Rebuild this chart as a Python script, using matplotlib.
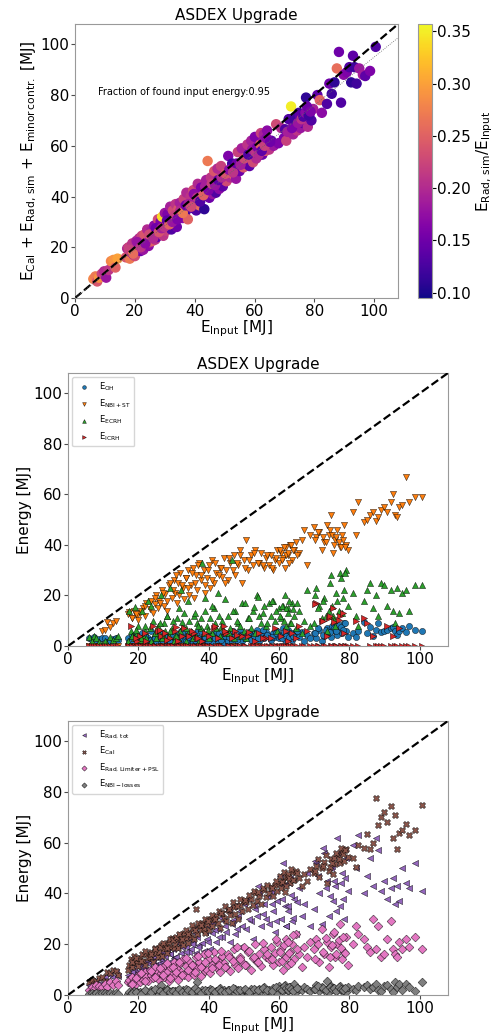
import numpy as np
import matplotlib
matplotlib.use('Agg')
import matplotlib.pyplot as plt

plt.rcParams['mathtext.default'] = 'regular'

# shots: input energy [MJ]
e_input = [6.1, 6.8, 7.4, 8.0, 8.9, 9.7, 10.4, 11.2, 12.0, 12.8, 13.5, 14.2,
           17.0, 17.4, 17.9, 18.3, 18.8, 19.1, 19.6, 20.0, 20.5, 21.0,
           21.4, 21.9, 22.3, 22.8, 23.2, 23.7, 24.1, 24.6, 25.0, 25.5,
           25.9, 26.4, 26.8, 27.3, 27.7, 28.2, 28.6, 29.1, 29.5, 30.0,
           30.4, 30.9, 31.3, 31.8, 32.2, 32.7, 33.1, 33.6, 34.0, 34.5,
           35.0, 35.4, 35.9, 36.3, 36.8, 37.2, 37.7, 38.1, 38.6, 39.0,
           39.5, 40.0, 40.5, 41.0, 41.6, 42.1, 42.7, 43.2, 43.8, 44.3,
           44.9, 45.4, 46.0, 46.5, 47.1, 47.6, 48.2, 48.8, 49.4, 50.0,
           50.6, 51.2, 51.9, 52.5, 53.1, 53.8, 54.4, 55.0, 55.7, 56.3,
           57.0, 57.6, 58.3, 58.9, 59.5, 60.1, 60.6, 61.1, 61.6, 62.1,
           62.6, 63.1, 63.6, 64.2, 64.9, 65.6, 66.4, 67.2, 68.0, 68.9,
           69.8, 70.6, 71.4, 72.2, 72.9, 73.6, 74.2, 74.8, 75.4, 76.0,
           76.6, 77.2, 77.8, 78.4, 79.0, 79.6,
           81.0, 81.8, 82.5, 84.2, 85.0, 85.8, 86.7, 87.5, 88.2, 88.9, 89.8,
           90.8, 91.7, 92.3, 92.9, 93.4, 94.1, 95.0, 96.2, 97.0, 98.6, 100.5,
           18.1, 19.4, 20.8, 22.0, 23.5, 24.8, 26.1, 27.0, 28.0, 28.9,
           29.8, 30.7, 31.5, 32.5, 33.4, 34.2, 35.2, 36.0, 37.0, 37.9,
           38.8, 39.7, 40.8, 41.8, 42.9, 43.5, 44.6, 45.7, 46.8, 47.9,
           49.0, 50.3, 51.5, 52.8, 54.0, 55.3, 56.6, 57.9, 59.2, 60.3,
           60.9, 61.4, 61.9, 62.4, 62.9, 63.4, 64.0, 65.2, 70.2, 71.0,
           72.5, 73.3, 74.5, 75.1, 75.7, 76.3, 77.0, 77.5, 78.1, 78.7]

# E_cal + E_rad,sim + minor contributions
e_found = [7.5, 8.5, 6.5, 8.0, 9.5, 10.5, 8.0, 11.0, 14.5, 15.0, 12.0, 15.5,
           16.0, 19.5, 20.0, 15.5, 18.0, 21.5, 17.0, 16.5, 22.5, 18.5,
           23.5, 18.5, 24.5, 19.0, 25.0, 21.0, 27.0, 20.5, 22.0, 26.5,
           22.5, 28.5, 23.0, 24.0, 31.0, 25.5, 30.0, 32.0, 24.5, 33.5,
           26.5, 33.0, 28.0, 36.0, 27.0, 34.5, 29.5, 37.0, 28.0, 35.0,
           37.5, 33.0, 31.5, 39.0, 33.5, 41.5, 31.0, 36.0, 40.0, 35.5,
           42.5, 37.0, 34.5, 45.0, 36.5, 43.5, 40.0, 35.0, 46.5, 54.0,
           39.5, 47.5, 41.0, 50.0, 41.5, 51.0, 43.0, 52.0, 44.0, 46.5,
           46.0, 56.0, 47.5, 53.0, 48.5, 47.0, 57.5, 50.0, 59.0, 51.5,
           53.0, 60.5, 52.0, 62.0, 53.5, 63.5, 55.0, 57.0, 60.0, 65.0,
           56.5, 64.5, 58.0, 66.0, 58.5, 62.0, 60.0, 68.5, 61.0, 67.0,
           63.0, 62.0, 70.5, 75.5, 64.5, 68.0, 66.0, 73.0, 67.0, 69.0,
           71.5, 79.0, 67.5, 72.5, 70.0, 74.5,
           80.0, 78.0, 73.0, 76.5, 84.5, 80.5, 85.0, 90.5, 97.0, 77.0, 88.0,
           89.0, 91.0, 85.0, 95.5, 91.0, 84.5, 90.5, 88.0, 87.5, 89.5, 99.0,
           19.0, 17.5, 22.0, 20.0, 21.5, 25.0, 23.5, 27.5, 26.0, 27.5,
           28.0, 30.5, 29.0, 30.0, 32.5, 31.0, 34.5, 33.5, 36.5, 37.0,
           36.0, 41.0, 39.5, 38.0, 40.5, 44.0, 42.5, 45.0, 44.5, 46.5,
           47.5, 49.0, 50.5, 49.5, 53.0, 52.5, 55.0, 56.5, 58.5, 57.5,
           59.5, 56.5, 60.5, 58.0, 62.0, 60.0, 63.0, 61.5, 66.5, 65.5,
           67.0, 70.5, 69.0, 72.0, 70.5, 71.5, 73.0, 75.5, 72.0, 73.5]

rad_frac = [0.28, 0.27, 0.24, 0.29, 0.22, 0.20, 0.18, 0.21, 0.28, 0.29, 0.25, 0.30,
            0.24, 0.20, 0.22, 0.27, 0.18, 0.21, 0.16, 0.23, 0.19, 0.25,
            0.20, 0.15, 0.22, 0.18, 0.24, 0.13, 0.20, 0.17, 0.22, 0.19,
            0.25, 0.17, 0.21, 0.14, 0.23, 0.19, 0.16, 0.34, 0.21, 0.18,
            0.22, 0.16, 0.26, 0.19, 0.13, 0.23, 0.18, 0.21, 0.15, 0.24,
            0.19, 0.27, 0.17, 0.22, 0.12, 0.20, 0.25, 0.16, 0.21, 0.14,
            0.23, 0.18, 0.13, 0.20, 0.26, 0.16, 0.21, 0.11, 0.19, 0.27,
            0.15, 0.21, 0.18, 0.24, 0.13, 0.20, 0.17, 0.22, 0.14, 0.19,
            0.23, 0.16, 0.20, 0.12, 0.25, 0.18, 0.22, 0.15, 0.19, 0.24,
            0.17, 0.21, 0.14, 0.19, 0.23, 0.16, 0.20, 0.13, 0.18, 0.22,
            0.15, 0.19, 0.24, 0.17, 0.21, 0.14, 0.18, 0.23, 0.16, 0.20,
            0.16, 0.22, 0.13, 0.35, 0.19, 0.15, 0.21, 0.12, 0.18, 0.14,
            0.17, 0.11, 0.20, 0.15, 0.13, 0.19,
            0.14, 0.25, 0.17, 0.13, 0.15, 0.12, 0.11, 0.26, 0.15, 0.13, 0.17,
            0.16, 0.13, 0.11, 0.14, 0.12, 0.12, 0.18, 0.19, 0.14, 0.16, 0.13,
            0.22, 0.26, 0.18, 0.21, 0.17, 0.23, 0.20, 0.15, 0.24, 0.19,
            0.21, 0.14, 0.25, 0.18, 0.22, 0.16, 0.20, 0.27, 0.15, 0.19,
            0.23, 0.17, 0.21, 0.13, 0.25, 0.19, 0.16, 0.22, 0.18, 0.14,
            0.20, 0.24, 0.17, 0.21, 0.15, 0.19, 0.23, 0.13, 0.18, 0.21,
            0.16, 0.20, 0.25, 0.14, 0.18, 0.22, 0.17, 0.15, 0.13, 0.19,
            0.16, 0.12, 0.18, 0.14, 0.21, 0.13, 0.17, 0.15, 0.12, 0.16]

# heating contributions
e_oh = [3.0, 2.5, 3.5, 2.0, 2.8, 3.2, 3.0, 1.5, 2.0, 2.6, 3.0, 2.2,
        3.0, 1.5, 2.5, 4.5, 2.0, 3.0, 1.0, 3.5, 2.5, 5.0,
        2.0, 4.0, 1.5, 3.0, 2.5, 6.0, 2.0, 3.5, 1.5, 4.0,
        3.0, 1.5, 5.0, 2.0, 3.5, 1.0, 2.5, 4.0, 2.0, 3.0,
        2.0, 4.5, 1.5, 3.0, 6.0, 2.5, 1.0, 3.5, 5.0, 2.0,
        3.0, 1.5, 4.0, 2.0, 5.5, 3.0, 1.0, 2.5, 4.5, 3.0,
        2.0, 4.0, 2.5, 1.5, 3.5, 5.0, 2.0, 3.0, 4.5, 1.0,
        3.0, 2.0, 5.5, 1.5, 4.0, 2.5, 3.5, 6.0, 2.0, 4.5,
        3.0, 4.0, 2.5, 5.0, 3.5, 6.5, 2.0, 4.5, 3.0, 5.5,
        4.0, 2.5, 5.0, 3.5, 6.0, 3.0, 4.5, 7.0, 2.5, 4.0,
        3.0, 5.0, 2.5, 4.0, 6.0, 3.5, 5.5, 2.0, 4.5, 3.0,
        5.0, 3.0, 6.5, 2.0, 4.0, 7.0, 5.5, 3.5, 8.0, 6.0,
        4.5, 7.5, 5.0, 9.0, 6.0, 3.5,
        5.0, 3.5, 6.0, 9.5, 5.0, 7.5, 4.0, 6.5, 9.0, 5.5, 6.0,
        6.5, 7.0, 7.5, 6.0, 4.5, 6.0, 7.0, 5.5, 8.0, 6.5, 6.0,
        2.0, 3.5, 1.5, 4.0, 2.5, 3.0, 5.0, 2.0, 3.5, 1.5,
        4.0, 2.5, 3.0, 5.5, 2.0, 3.5, 4.5, 2.5, 3.0, 6.0,
        3.5, 2.0, 4.5, 3.0, 5.0, 2.5, 4.0, 3.5, 6.0, 2.5,
        4.5, 3.0, 5.5, 4.0, 3.0, 6.5, 4.5, 3.5, 5.0, 4.0,
        3.0, 5.5, 4.0, 6.5, 3.5, 5.0, 4.0, 6.0, 5.0, 7.0,
        4.5, 6.5, 5.5, 8.0, 7.0, 6.0, 8.5, 7.5, 6.5, 9.0]

e_nbi = [0, 0, 0, 0, 0, 6.0, 6.5, 9.5, 7.5, 9.0, 10.0, 0,
         12.5, 13.5, 0, 11.0, 14.0, 0, 12.0, 10.5, 13.0, 0,
         15.0, 12.0, 17.0, 0, 14.5, 18.0, 13.0, 16.5, 20.0, 15.0,
         18.0, 0, 22.0, 16.0, 20.5, 14.0, 24.0, 0, 19.0, 26.0,
         21.0, 17.0, 25.0, 29.0, 0, 23.0, 18.5, 27.0, 30.0, 20.0,
         24.0, 31.0, 19.0, 28.0, 22.0, 33.0, 26.0, 0, 30.0, 21.0,
         27.0, 32.0, 23.0, 34.0, 25.0, 29.0, 0, 31.0, 27.5, 35.0,
         30.0, 26.0, 33.0, 0, 36.0, 28.0, 32.0, 38.0, 25.0, 34.0,
         42.0, 30.0, 36.0, 32.0, 38.0, 0, 33.0, 37.0, 31.0, 35.0,
         32.0, 36.0, 30.0, 34.0, 38.0, 33.0, 37.0, 35.0, 31.0, 39.0,
         36.0, 40.0, 34.0, 38.0, 41.0, 37.0, 42.0, 46.0, 32.0, 44.0,
         47.0, 43.0, 45.0, 38.0, 41.0, 48.0, 44.0, 52.0, 37.0, 42.0,
         46.0, 39.0, 44.0, 48.0, 40.0, 38.0,
         53.0, 44.0, 57.0, 49.0, 50.0, 52.0, 53.0, 49.5, 51.0, 54.0, 55.0,
         53.0, 57.0, 60.0, 52.0, 51.0, 55.0, 56.0, 67.0, 57.0, 59.0, 59.0,
         11.0, 12.5, 14.0, 16.0, 0, 19.0, 17.0, 21.0, 18.0, 25.0,
         22.0, 28.0, 20.0, 24.0, 27.0, 23.0, 29.0, 25.0, 32.0, 28.0,
         24.0, 30.0, 26.0, 33.0, 28.0, 31.0, 25.0, 35.0, 30.0, 33.0,
         36.0, 31.0, 34.0, 37.0, 33.0, 32.0, 36.0, 31.0, 35.0, 38.0,
         34.0, 39.0, 36.0, 37.0, 33.0, 40.0, 38.0, 36.0, 42.0, 45.0,
         43.0, 41.0, 46.0, 44.0, 40.0, 43.0, 41.0, 39.0, 42.0, 39.0]

e_ecrh = [3.5, 2.0, 4.0, 3.0, 1.5, 1.0, 2.0, 1.0, 3.5, 2.5, 3.0, 4.0,
          2.0, 14.0, 6.0, 4.0, 3.0, 15.5, 5.0, 8.0, 2.5, 14.0,
          4.0, 6.0, 3.0, 18.0, 7.0, 2.0, 10.0, 5.0, 3.0, 8.0,
          5.0, 20.0, 3.0, 9.0, 6.0, 12.0, 4.0, 23.0, 7.0, 2.0,
          4.0, 11.0, 3.0, 6.0, 22.0, 8.0, 13.0, 2.0, 5.0, 10.0,
          6.0, 3.0, 12.0, 4.0, 9.0, 2.0, 7.0, 33.0, 5.0, 14.0,
          8.0, 3.0, 11.0, 5.0, 15.0, 7.0, 21.0, 4.0, 10.0, 6.0,
          5.0, 12.0, 7.0, 34.0, 3.0, 14.0, 9.0, 4.0, 17.0, 6.0,
          3.0, 11.0, 7.0, 14.0, 5.0, 20.0, 12.0, 9.0, 16.0, 8.0,
          17.0, 12.0, 18.0, 10.0, 6.0, 15.0, 11.0, 16.0, 20.0, 8.0,
          15.0, 9.0, 17.0, 12.0, 7.0, 14.0, 5.0, 10.0, 22.0, 8.0,
          9.0, 23.0, 16.0, 11.0, 19.0, 6.0, 14.0, 28.0, 12.0, 8.0,
          18.0, 29.0, 13.0, 22.0, 30.0, 16.0,
          21.0, 12.0, 8.0, 18.0, 22.0, 25.0, 15.0, 20.0, 12.0, 25.0, 24.0,
          16.0, 22.0, 14.0, 9.0, 23.0, 13.0, 21.0, 22.0, 14.0, 24.0, 24.0,
          4.0, 6.5, 3.0, 8.0, 16.0, 5.0, 9.0, 4.5, 12.0, 6.0,
          10.0, 4.0, 15.0, 9.5, 7.0, 18.0, 5.5, 13.0, 8.0, 11.0,
          19.0, 6.5, 16.0, 9.0, 12.0, 7.5, 18.5, 5.0, 14.0, 10.0,
          8.0, 17.0, 11.0, 15.5, 19.5, 13.0, 9.0, 18.0, 14.0, 12.0,
          16.0, 10.0, 15.0, 13.0, 18.0, 9.0, 14.5, 17.0, 20.0, 15.0,
          18.0, 12.0, 25.0, 16.0, 10.5, 21.0, 14.0, 27.0, 19.0, 29.0]

e_icrh = [0, 0, 0, 0, 0, 0, 0, 0, 0, 0, 0, 0,
          0, 0, 8.0, 0, 0, 0, 2.0, 0, 4.0, 0,
          0, 0, 2.0, 0, 0, 0, 8.0, 0, 0, 6.0,
          0, 4.0, 0, 0, 5.0, 0, 0, 3.0, 0, 0,
          6.0, 0, 2.0, 0, 0, 0, 7.0, 0, 0, 4.0,
          0, 0, 5.0, 0, 3.0, 0, 0, 2.0, 0, 0,
          0, 4.0, 0, 0, 7.0, 0, 3.0, 0, 0, 8.0,
          5.0, 0, 0, 3.0, 0, 6.0, 0, 0, 4.0, 0,
          0, 4.0, 0, 0, 2.0, 0, 5.0, 0, 0, 3.0,
          0, 3.0, 0, 7.0, 0, 0, 4.0, 0, 0, 6.0,
          0, 0, 5.0, 0, 3.0, 8.0, 0, 0, 6.0, 0,
          0, 17.0, 0, 10.0, 0, 4.0, 11.0, 0, 15.0, 0,
          0, 12.0, 0, 5.0, 0, 0,
          0, 10.0, 0, 11.0, 9.0, 0, 4.0, 0, 0, 0, 0,
          8.0, 0, 4.0, 0, 0, 7.0, 0, 0, 0, 0, 0,
          0, 3.0, 0, 5.0, 0, 0, 6.5, 0, 2.5, 0,
          0, 7.5, 0, 4.0, 0, 0, 6.0, 0, 3.0, 0,
          5.0, 0, 0, 8.0, 0, 0, 6.0, 0, 0, 4.5,
          0, 0, 5.5, 0, 0, 3.0, 0, 0, 0, 0,
          0, 0, 0, 2.0, 0, 0, 0, 0, 16.5, 0,
          10.0, 0, 12.0, 0, 9.5, 0, 10.5, 0, 13.0, 0]

# power balance contributions
e_rad_tot = [4.0, 5.5, 5.0, 6.0, 4.5, 6.5, 7.0, 5.5, 8.0, 7.0, 9.0, 7.5,
             8.0, 7.0, 11.0, 9.0, 10.0, 12.0, 8.5, 9.5, 11.5, 10.5,
             11.0, 13.0, 9.5, 12.5, 14.0, 10.0, 13.5, 15.0, 12.0, 16.0,
             12.5, 14.0, 17.0, 11.0, 15.5, 18.0, 13.0, 16.0, 19.0, 14.5,
             15.0, 18.5, 13.5, 20.0, 16.5, 22.0, 14.0, 19.0, 24.0, 17.0,
             18.0, 21.0, 26.0, 16.5, 23.0, 19.5, 28.0, 20.5, 17.5, 25.0,
             22.0, 27.0, 18.0, 24.5, 30.0, 21.0, 26.0, 32.0, 23.0, 29.0,
             25.0, 33.0, 21.0, 28.0, 35.0, 24.0, 31.0, 19.0, 27.0, 36.0,
             26.0, 38.0, 29.0, 22.0, 34.0, 31.0, 40.0, 27.0, 36.0, 30.0,
             28.0, 41.0, 33.0, 25.0, 37.0, 44.0, 30.0, 52.0, 35.0, 27.0,
             33.0, 46.0, 29.0, 38.0, 24.0, 42.0, 31.0, 36.0, 48.0, 27.0,
             34.0, 52.0, 40.0, 28.0, 56.0, 45.0, 31.0, 50.0, 37.0, 43.0,
             62.0, 35.0, 48.0, 30.0, 54.0, 41.0,
             59.0, 50.0, 63.0, 40.0, 47.0, 54.0, 43.0, 62.0, 57.0, 41.0, 45.0,
             38.0, 42.0, 46.0, 36.0, 43.0, 37.0, 50.0, 44.0, 42.0, 52.0, 41.0,
             9.0, 7.5, 12.5, 10.0, 13.0, 11.5, 15.5, 13.0, 17.5, 16.0,
             18.0, 15.0, 20.5, 19.0, 17.0, 22.5, 20.0, 24.5, 19.0, 27.0,
             25.0, 21.0, 28.5, 25.5, 23.0, 30.5, 27.0, 34.0, 29.5, 26.0,
             33.0, 37.0, 30.0, 35.5, 43.0, 32.0, 39.0, 36.0, 29.0, 47.0,
             38.0, 43.5, 27.0, 35.0, 44.0, 39.5, 30.5, 36.5, 53.0, 47.0,
             58.0, 42.0, 39.0, 51.0, 45.0, 33.0, 56.0, 44.0, 38.0, 46.0]

e_cal = [5.0, 6.0, 4.5, 5.5, 6.5, 7.0, 5.5, 9.0, 8.5, 10.0, 9.5, 8.0,
         10.0, 12.0, 14.0, 11.0, 15.5, 13.0, 12.5, 11.5, 14.5, 16.0,
         13.5, 12.0, 16.0, 14.5, 15.0, 17.0, 13.0, 18.5, 16.5, 15.0,
         17.0, 19.5, 15.5, 18.0, 20.0, 16.5, 21.0, 19.0, 22.5, 18.5,
         20.0, 22.0, 18.5, 23.5, 21.0, 19.5, 24.5, 22.5, 20.5, 25.0,
         23.0, 26.5, 22.0, 34.0, 24.0, 27.0, 25.5, 28.5, 26.0, 24.5,
         28.0, 25.5, 30.0, 27.0, 29.5, 31.0, 28.5, 26.5, 32.5, 30.5,
         29.0, 33.5, 31.5, 28.5, 34.5, 32.0, 30.0, 35.5, 33.0, 37.0,
         36.5, 34.0, 38.0, 35.5, 40.0, 37.0, 39.0, 36.0, 41.5, 38.5,
         40.0, 42.5, 39.0, 43.5, 41.0, 44.0, 42.0, 45.0, 40.5, 46.5,
         47.0, 44.0, 48.5, 45.5, 49.0, 46.0, 43.0, 47.5, 45.0, 49.5,
         48.0, 51.0, 46.5, 50.0, 52.5, 44.0, 49.0, 53.5, 47.5, 51.5,
         55.0, 52.0, 56.5, 53.0, 57.5, 54.5,
         54.0, 50.5, 59.0, 58.0, 63.5, 57.5, 60.0, 77.5, 67.0, 70.0, 72.0,
         68.0, 74.5, 62.0, 71.0, 57.5, 64.0, 65.0, 67.5, 63.0, 65.0, 75.0,
         13.0, 14.5, 13.5, 17.5, 16.0, 18.0, 19.0, 20.5, 18.5, 22.0,
         21.5, 23.0, 24.0, 22.0, 25.5, 24.0, 27.5, 25.5, 28.5, 27.5,
         30.0, 29.0, 31.5, 30.0, 33.0, 32.5, 35.0, 34.0, 36.5, 35.0,
         38.0, 37.5, 39.5, 41.0, 40.5, 42.0, 43.5, 42.0, 45.0, 47.0,
         44.5, 48.5, 43.0, 47.5, 46.0, 49.5, 45.5, 48.0, 49.0, 53.5,
         51.0, 55.0, 50.5, 52.0, 54.0, 56.0, 53.5, 58.0, 55.5, 57.0]

e_rad_lim = [2.0, 3.0, 2.5, 4.0, 3.5, 3.0, 4.5, 3.0, 5.0, 4.0, 5.5, 4.0,
             5.0, 6.0, 4.5, 7.0, 5.5, 4.0, 6.5, 8.0, 5.0, 7.5,
             6.0, 9.0, 7.0, 5.5, 10.0, 8.0, 6.5, 11.0, 7.5, 9.0,
             6.0, 8.5, 10.0, 7.0, 12.0, 9.0, 5.5, 11.0, 8.0, 13.0,
             7.5, 10.5, 6.0, 12.5, 9.0, 14.0, 8.0, 11.5, 7.0, 13.5,
             9.0, 12.0, 8.0, 15.0, 10.5, 13.0, 7.5, 11.0, 16.0, 9.5,
             10.0, 14.0, 8.5, 12.0, 17.0, 11.0, 13.5, 9.0, 15.5, 12.5,
             11.0, 16.0, 9.5, 14.0, 18.0, 12.0, 10.5, 15.0, 13.0, 19.0,
             12.0, 17.0, 10.0, 14.5, 20.0, 13.0, 16.0, 11.5, 18.0, 15.0,
             14.0, 19.0, 12.0, 16.5, 21.0, 13.0, 18.0, 10.0, 15.0, 22.0,
             12.0, 17.0, 20.0, 14.0, 24.0, 16.0, 11.0, 19.0, 15.0, 21.0,
             18.0, 22.0, 13.0, 26.0, 16.0, 21.0, 11.0, 19.0, 24.0, 15.0,
             20.0, 28.0, 14.0, 17.0, 23.0, 12.0,
             20.0, 27.0, 24.0, 22.0, 19.0, 17.0, 30.0, 18.0, 27.0, 15.0, 16.0,
             22.0, 29.0, 18.0, 16.0, 15.0, 21.0, 18.0, 22.0, 19.0, 23.0, 18.0,
             4.5, 6.5, 8.5, 5.5, 9.5, 7.0, 10.5, 8.0, 12.5, 6.5,
             11.0, 9.0, 13.0, 8.0, 14.5, 10.0, 12.0, 9.0, 15.5, 11.0,
             13.0, 16.5, 10.5, 14.0, 12.0, 17.5, 11.0, 15.0, 13.5, 19.0,
             14.0, 12.0, 17.5, 15.0, 13.0, 20.5, 16.0, 14.0, 22.0, 17.0,
             13.5, 19.5, 15.0, 21.0, 16.5, 12.5, 23.5, 18.0, 14.0, 20.0,
             17.0, 22.5, 15.0, 19.5, 25.0, 16.0, 21.5, 18.5, 23.0, 16.5]

e_nbi_loss = [0.5, 0.8, 0.3, 0.6, 0.5, 0.9, 0.7, 0.4, 0.8, 0.5, 0.6, 0.3,
              0.5, 1.0, 0.2, 0.8, 1.5, 0.3, 1.0, 0.6, 1.2, 0.4,
              1.0, 0.5, 1.5, 0.3, 0.8, 2.0, 1.2, 0.7, 1.8, 1.0,
              0.5, 4.0, 1.0, 1.5, 0.8, 2.2, 1.0, 0.4, 1.6, 1.2,
              1.5, 0.6, 2.0, 1.0, 0.3, 1.8, 1.3, 2.5, 0.9, 1.4,
              1.0, 2.0, 0.5, 1.5, 5.0, 1.2, 0.8, 1.8, 1.1, 0.6,
              1.5, 0.8, 2.2, 1.0, 0.5, 1.6, 1.3, 2.8, 0.9, 1.9,
              1.2, 2.0, 0.7, 1.5, 1.0, 2.4, 1.8, 0.6, 1.3, 2.0,
              1.5, 0.8, 2.5, 1.2, 1.8, 0.5, 2.2, 1.4, 3.0, 1.0,
              2.0, 1.2, 2.8, 1.6, 0.9, 3.5, 2.4, 1.5, 4.0, 2.2,
              1.5, 3.0, 2.0, 4.5, 1.0, 2.5, 1.8, 3.2, 2.2, 1.4,
              2.5, 4.0, 1.5, 3.0, 2.0, 5.5, 1.2, 3.5, 2.8, 1.8,
              2.0, 3.5, 1.5, 2.5, 1.0, 3.0,
              2.5, 2.0, 3.5, 3.0, 4.0, 2.5, 3.0, 4.5, 2.0, 1.5, 3.5,
              4.0, 2.5, 1.0, 5.0, 3.0, 4.5, 2.0, 4.5, 3.0, 1.5, 5.0,
              0.8, 1.2, 0.5, 1.8, 1.0, 2.5, 1.4, 0.6, 2.0, 1.1,
              1.6, 0.9, 2.3, 1.3, 0.7, 1.9, 1.2, 2.6, 1.5, 0.8,
              2.1, 1.4, 1.8, 1.0, 2.4, 1.6, 1.2, 2.0, 2.7, 1.5,
              1.8, 2.2, 1.3, 2.5, 1.9, 2.9, 2.1, 1.6, 3.2, 2.4,
              1.8, 3.6, 2.7, 2.0, 3.0, 2.4, 1.7, 2.8, 2.2, 3.4,
              2.6, 1.9, 3.1, 2.3, 2.8, 1.6, 3.3, 2.5, 2.0, 2.9]

found_fraction = 0.95
lim = 108

fig = plt.figure(figsize=(4.94, 10.36), dpi=100)
fs = 11


def style_axes(ax):
    ax.set_xlim(0, lim)
    ax.set_ylim(0, lim)
    ax.set_xticks([0, 20, 40, 60, 80, 100])
    ax.set_yticks([0, 20, 40, 60, 80, 100])
    ax.tick_params(labelsize=fs, length=3, color='0.3', pad=1)
    for s in ax.spines.values():
        s.set_color('0.6')
    ax.set_title('ASDEX Upgrade', fontsize=fs, pad=3)
    ax.set_xlabel(r'$E_{\rm Input}$ [MJ]', fontsize=fs, labelpad=0)


line = [0, lim]

# --- top: found energy vs input energy
ax1 = fig.add_axes([0.152, 0.7124, 0.654, 0.2644])
sc = ax1.scatter(e_input, e_found, c=rad_frac, cmap='plasma', vmin=0.095, vmax=0.357,
                 s=42, zorder=2)
ax1.plot(line, line, 'k--', lw=1.6, zorder=3)
ax1.plot(line, [0, lim * found_fraction], color='0.4', ls=':', lw=0.6, zorder=3)
ax1.text(7.5, 80, 'Fraction of found input energy:' + str(found_fraction), fontsize=7)
style_axes(ax1)
ax1.set_ylabel(r'$E_{\rm Cal}$ + $E_{\rm Rad,\,sim}$ + $E_{\rm minor\,contr.}$ [MJ]',
               fontsize=fs, labelpad=1)
cax = fig.add_axes([0.846, 0.7124, 0.0283, 0.2644])
cb = fig.colorbar(sc, cax=cax)
cb.set_ticks([0.10, 0.15, 0.20, 0.25, 0.30, 0.35])
cb.ax.tick_params(labelsize=fs, length=3, pad=1)
cb.outline.set_edgecolor('0.6')
cb.set_label(r'$E_{\rm Rad,\,sim}/E_{\rm Input}$', fontsize=fs, labelpad=2)

# --- middle: heating sources
ax2 = fig.add_axes([0.1377, 0.3764, 0.769, 0.2635])
kw = dict(s=20, edgecolors='k', linewidths=0.3, zorder=2)
ax2.scatter(e_input, e_oh, marker='o', color='tab:blue', label=r'$E_{\rm OH}$', **kw)
ax2.scatter(e_input, e_nbi, marker='v', color='tab:orange', label=r'$E_{\rm NBI+ST}$', **kw)
ax2.scatter(e_input, e_ecrh, marker='^', color='tab:green', label=r'$E_{\rm ECRH}$', **kw)
ax2.scatter(e_input, e_icrh, marker='>', color='tab:red', label=r'$E_{\rm ICRH}$', **kw)
ax2.plot(line, line, 'k--', lw=1.6, zorder=3)
style_axes(ax2)
ax2.set_ylabel('Energy [MJ]', fontsize=fs, labelpad=1)
ax2.legend(loc='upper left', fontsize=6, markerscale=0.6, frameon=True)

# --- bottom: power balance
ax3 = fig.add_axes([0.1377, 0.0396, 0.769, 0.2645])
ax3.scatter(e_input, e_rad_tot, marker='<', color='tab:purple', label=r'$E_{\rm Rad,\,tot}$', **kw)
ax3.scatter(e_input, e_cal, marker='X', color='tab:brown', label=r'$E_{\rm Cal}$', **kw)
ax3.scatter(e_input, e_rad_lim, marker='D', color='tab:pink',
            label=r'$E_{\rm Rad,\,Limiter+PSL}$', **kw)
ax3.scatter(e_input, e_nbi_loss, marker='D', color='tab:gray',
            label=r'$E_{\rm NBI-losses}$', **kw)
ax3.plot(line, line, 'k--', lw=1.6, zorder=3)
style_axes(ax3)
ax3.set_ylabel('Energy [MJ]', fontsize=fs, labelpad=1)
ax3.legend(loc='upper left', fontsize=6, markerscale=0.6, frameon=True)

fig.savefig('out.png', dpi=100)
